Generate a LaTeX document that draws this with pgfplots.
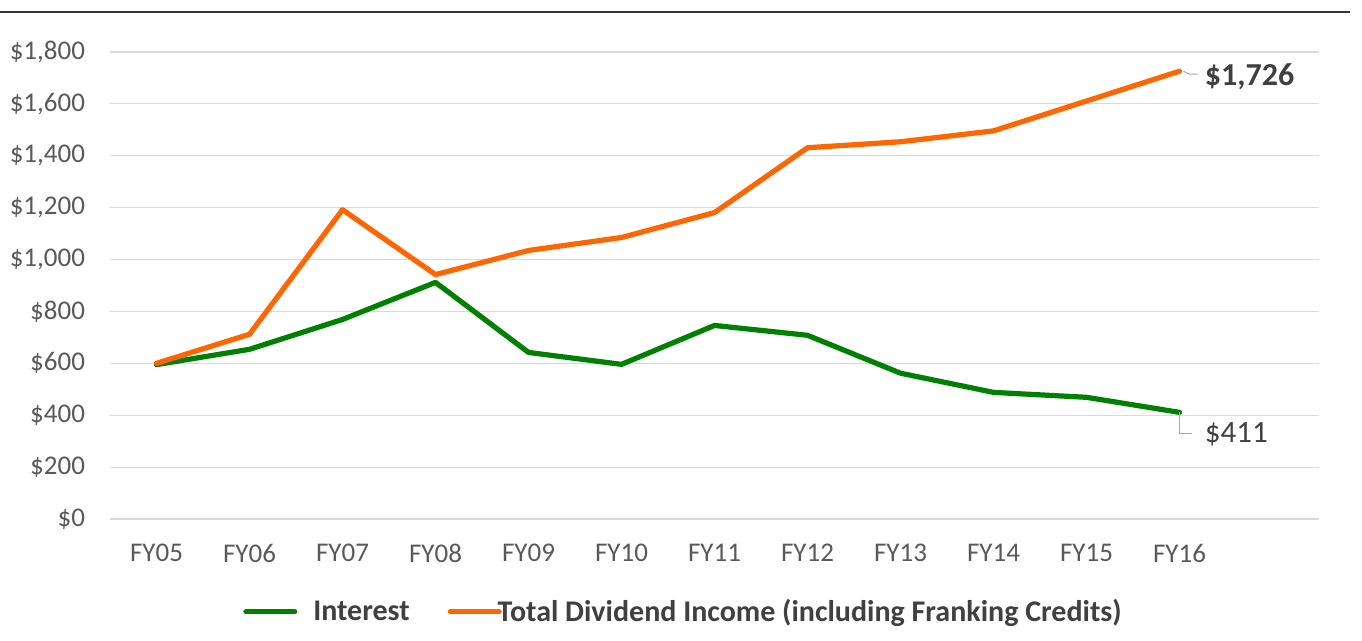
\documentclass[border=0pt]{standalone}
\usepackage{pgfplots}
\pgfplotsset{compat=1.18}
\usepackage{fontspec}
\setmainfont{Carlito}
\definecolor{intgreen}{RGB}{0,128,0}
\definecolor{divorange}{RGB}{255,102,0}
\definecolor{ticktxt}{RGB}{89,89,89}
\definecolor{gridc}{RGB}{217,217,217}
\definecolor{legtxt}{RGB}{64,64,64}
\begin{document}
\begin{tikzpicture}
\useasboundingbox (-55pt,-61pt) rectangle (626pt,259.5pt);
\draw[black!80, line width=0.6pt] (-55pt,253.5pt) -- (620pt,253.5pt);
\begin{axis}[
  at={(0,0)}, anchor=south west,
  scale only axis,
  width=604.5pt, height=233.5pt,
  xmin=-0.5, xmax=12.5,
  ymin=0, ymax=1800,
  ytick={0,200,...,1800},
  xtick={0,...,11},
  xticklabels={FY05,FY06,FY07,FY08,FY09,FY10,FY11,FY12,FY13,FY14,FY15,FY16},
  axis line style={draw=none},
  major tick length=0pt,
  ymajorgrids, grid style={gridc, line width=0.6pt},
  /pgf/number format/assume math mode=true,
  /pgf/number format/1000 sep={,},
  yticklabel={\$\pgfmathprintnumber{\tick}},
  tick label style={font=\fontsize{13.5}{15}\selectfont, text=ticktxt},
  yticklabel style={xshift=-9pt},
  xticklabel style={yshift=-9pt},
  legend columns=2,
  legend cell align=left,
  legend style={draw=none, fill=none, at={(0.4735,-0.199)}, anchor=center,
    font=\bfseries\fontsize{15}{17}\selectfont, text=legtxt,
    nodes={inner xsep=0pt},
    /tikz/every even column/.append style={column sep=19pt}},
  legend image code/.code={\draw[#1, line width=2.5pt, line cap=round] (0pt,0pt) -- (24.5pt,0pt);},
  clip=false,
]
\addplot[intgreen, line width=2.6pt, line join=round, line cap=round] coordinates {
(0,595) (1,654) (2,769) (3,912) (4,642) (5,596) (6,746) (7,708) (8,562) (9,488) (10,469) (11,411)};
\addlegendentry{\hspace{8pt}Interest}
\addplot[divorange, line width=2.6pt, line join=round, line cap=round] coordinates {
(0,600) (1,712) (2,1192) (3,942) (4,1035) (5,1085) (6,1181) (7,1431) (8,1454) (9,1496) (10,1611) (11,1726)};
\addlegendentry{\hspace{-2pt}Total Dividend Income (including Franking Credits)}
\coordinate (p1) at (axis cs:11,1726);
\coordinate (p2) at (axis cs:11,411);
\end{axis}
\draw[gray!70, line width=0.5pt] ([xshift=2pt]p1) -- ([xshift=5pt,yshift=-1.5pt]p1) -- ([xshift=9pt,yshift=-1.5pt]p1);
\node[anchor=west, font=\bfseries\fontsize{16}{18}\selectfont, text=legtxt, inner sep=0pt] at ([xshift=12.5pt,yshift=-3pt]p1) {\$1,726};
\draw[gray!70, line width=0.5pt] (p2) -- ([yshift=-10.5pt]p2) -- ([xshift=6pt,yshift=-10.5pt]p2);
\node[anchor=west, font=\fontsize{15.5}{17}\selectfont, text=legtxt, inner sep=0pt] at ([xshift=12.5pt,yshift=-11pt]p2) {\$411};
\end{tikzpicture}
\end{document}
